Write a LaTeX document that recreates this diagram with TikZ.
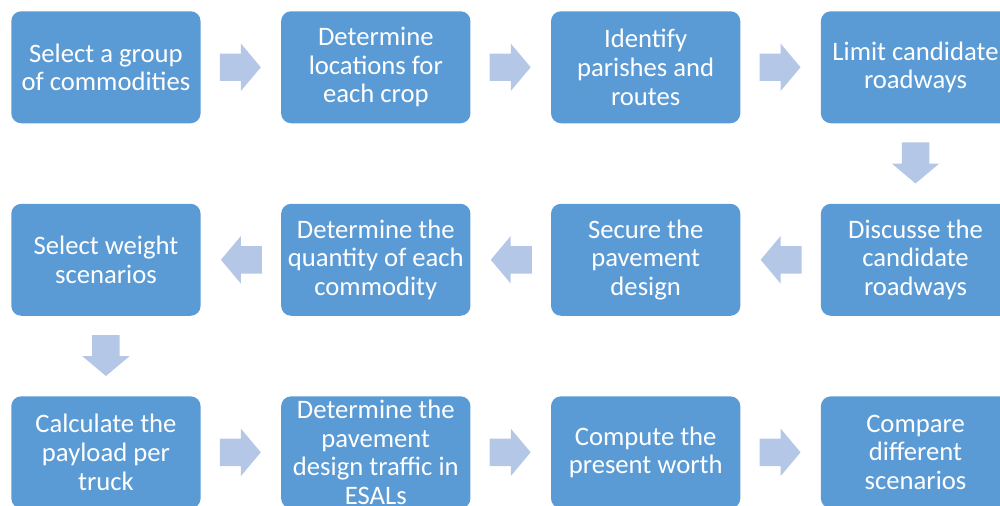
\documentclass[tikz,border=0pt]{standalone}
\usepackage{fontspec}
\setmainfont{Carlito}
\usetikzlibrary{positioning,calc,shapes.arrows}
\definecolor{StepBlue}{HTML}{5B9BD5}
\definecolor{FlowBlue}{HTML}{B4C7E7}
\begin{document}
\begin{tikzpicture}[node distance=60pt and 60pt]
\tikzset{stepbox/.style={fill=StepBlue,rounded corners=7.5pt,minimum width=142pt,minimum height=84pt,inner sep=0pt,align=center,text=white,font=\fontsize{20}{21.5}\selectfont},
         flow/.style={single arrow,fill=FlowBlue,anchor=tail,inner xsep=0pt,inner ysep=10.1pt,minimum height=30.75pt,single arrow head extend=7.5pt,single arrow tip angle=100}}
\useasboundingbox (0,0) rectangle (750pt,-379.5pt);
% first row
\node[stepbox,anchor=north west] (select) at (8.25pt,-8.25pt) {Select a group\\of commodities};
\node[stepbox,right=of select] (locate) {Determine\\locations for\\each crop};
\node[stepbox,right=of locate] (parish) {Identify\\parishes and\\routes};
\node[stepbox,right=of parish] (limit) {Limit candidate\\roadways};
% second row
\node[stepbox,below=of limit] (discuss) {Discusse the\\candidate\\roadways};
\node[stepbox,left=of discuss] (secure) {Secure the\\pavement\\design};
\node[stepbox,left=of secure] (quantity) {Determine the\\quantity of each\\commodity};
\node[stepbox,left=of quantity] (weight) {Select weight\\scenarios};
% third row
\node[stepbox,below=of weight] (payload) {Calculate the\\payload per\\truck};
\node[stepbox,right=of payload] (esal) {Determine the\\pavement\\design traffic in\\ESALs};
\node[stepbox,right=of esal] (worth) {Compute the\\present worth};
\node[stepbox,right=of worth] (compare) {Compare\\different\\scenarios};
% block arrows, tail 14pt off the box they leave
\node[flow] (a1) at ($(select.east)+(14pt,0)$) {};
\node[flow] (a2) at ($(locate.east)+(14pt,0)$) {};
\node[flow] (a3) at ($(parish.east)+(14pt,0)$) {};
\node[flow,rotate=270] (a4) at ($(limit.south)+(0,-14pt)$) {};
\node[flow,rotate=180] (a5) at ($(discuss.west)+(-14pt,0)$) {};
\node[flow,rotate=180] (a6) at ($(secure.west)+(-14pt,0)$) {};
\node[flow,rotate=180] (a7) at ($(quantity.west)+(-14pt,0)$) {};
\node[flow,rotate=270] (a8) at ($(weight.south)+(0,-14pt)$) {};
\node[flow] (a9) at ($(payload.east)+(14pt,0)$) {};
\node[flow] (a10) at ($(esal.east)+(14pt,0)$) {};
\node[flow] (a11) at ($(worth.east)+(14pt,0)$) {};
\end{tikzpicture}
\end{document}
